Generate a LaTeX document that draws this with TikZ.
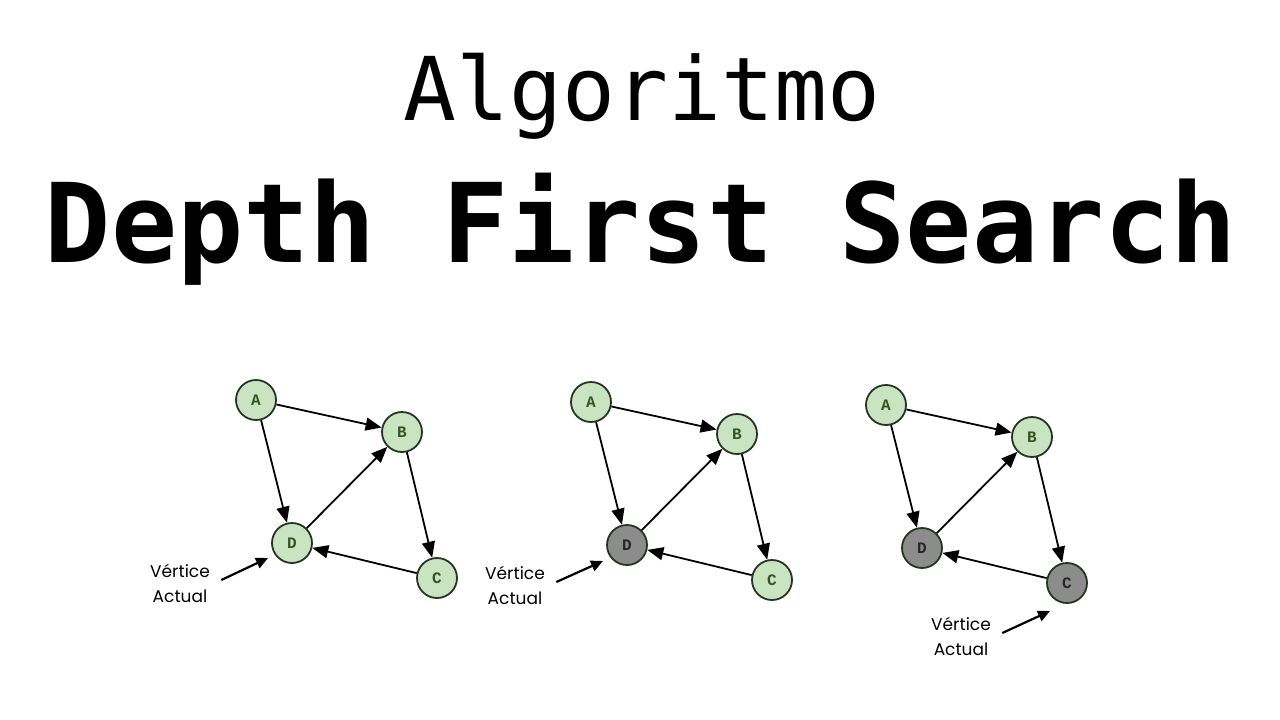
\documentclass[tikz,border=0pt]{standalone}
\usepackage{fontspec}
\usepackage{tikz}
\usetikzlibrary{positioning, arrows.meta}
\newfontfamily\titlefont{DejaVu Sans Mono}
\newfontfamily\vtxfont{Liberation Mono}
\newfontfamily\notefont{Poppins}
\definecolor{vtxgreen}{RGB}{201,228,192}
\definecolor{vtxgray}{RGB}{140,140,140}
\definecolor{vtxline}{RGB}{38,52,36}
\definecolor{vtxtext}{RGB}{52,84,40}

\begin{document}
\begin{tikzpicture}[x=1pt, y=-1pt,
    vtx/.style={circle, draw=vtxline, line width=1.8pt, fill=vtxgreen, minimum size=40pt, inner sep=0pt,
                font=\vtxfont\bfseries\fontsize{16}{16}\selectfont, text=vtxtext},
    seen/.style={fill=vtxgray, text=black!85},
    edge/.style={-{Triangle[length=16pt,width=13pt]}, line width=1.8pt},
    pointer/.style={-{Triangle[length=12pt,width=11pt]}, line width=2.2pt},
    note/.style={align=center, font=\notefont\fontsize{17}{25}\selectfont}]
    \useasboundingbox (0,0) rectangle (1280,720);

    % Title
    \node[font=\titlefont\fontsize{88}{88}\selectfont, anchor=base] (title1) at (642,120) {Algoritmo};
    \node[font=\titlefont\bfseries\fontsize{110}{110}\selectfont, anchor=base] (title2) at (641,262) {Depth First Search};

    % Three snapshots of the graph
    \foreach \g/\sx/\sy/\dst/\cst in {1/0/0/{}/{}, 2/335/2/seen/{}, 3/630/5/seen/seen} {
        \begin{scope}[shift={(\sx,\sy)}]
            \node[vtx] (A\g) at (256,400) {A};
            \node[vtx] (B\g) at (402,432) {B};
            \node[vtx, \dst] (D\g) at (292,543) {D};
            \node[vtx, \cst] (C\g) at (437,578) {C};
            \draw[edge] (A\g) -- (B\g);
            \draw[edge] (A\g) -- (D\g);
            \draw[edge] (D\g) -- (B\g);
            \draw[edge] (B\g) -- (C\g);
            \draw[edge] (C\g) -- (D\g);
        \end{scope}
    }

    % Current vertex
    \node[note] (cur1) at (180,583) {Vértice\\Actual};
    \node[note] (cur2) at (515,585) {Vértice\\Actual};
    \node[note] (cur3) at (961,636) {Vértice\\Actual};
    \coordinate (tip1) at (268,558);
    \coordinate (tip2) at (603,561);
    \coordinate (tip3) at (1050,611);
    \draw[pointer] ([xshift=8pt,yshift=3pt]cur1.east) -- (tip1);
    \draw[pointer] ([xshift=8pt,yshift=3pt]cur2.east) -- (tip2);
    \draw[pointer] ([xshift=8pt,yshift=3pt]cur3.east) -- (tip3);
\end{tikzpicture}
\end{document}
